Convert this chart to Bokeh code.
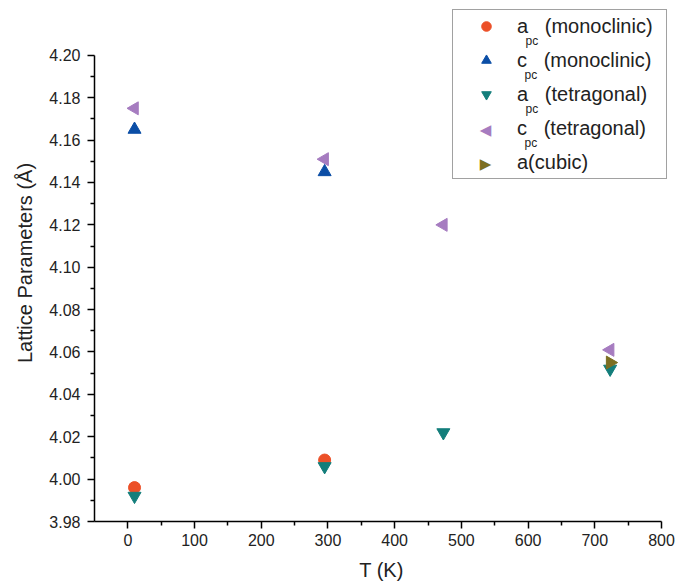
from bokeh.plotting import figure
from bokeh.models import (Legend, LegendItem, FixedTicker, NumeralTickFormatter,
                          Range1d, Label)
from bokeh.embed import file_html
from bokeh.resources import INLINE

# ---- data ----
T_mono = [10, 295]
a_mono = [3.996, 4.009]
c_mono = [4.165, 4.145]

T_tet = [10, 295, 473, 723]
a_tet = [3.992, 4.006, 4.022, 4.052]
c_tet = [4.175, 4.151, 4.120, 4.061]

T_cub = [723]
a_cub = [4.055]

x_ticks = [0, 100, 200, 300, 400, 500, 600, 700, 800]
x_minor = [50, 150, 250, 350, 450, 550, 650, 750]
y_ticks = [3.98, 4.00, 4.02, 4.04, 4.06, 4.08, 4.10, 4.12, 4.14, 4.16, 4.18, 4.20]
y_minor = [3.99, 4.01, 4.03, 4.05, 4.07, 4.09, 4.11, 4.13, 4.15, 4.17, 4.19]

FONT = "Liberation Sans"
C_RED, C_BLUE, C_TEAL, C_PURPLE, C_OLIVE = "#EC5028", "#0B4EA6", "#137E7B", "#A67CC0", "#7C6F22"

p = figure(width=679, height=583, output_backend="svg", toolbar_location=None,
           x_range=Range1d(-50, 810.5), y_range=Range1d(3.98, 4.2240),
           min_border_left=94, min_border_right=11, min_border_top=4,
           min_border_bottom=61)
p.outline_line_color = None
p.xgrid.visible = False
p.ygrid.visible = False
p.background_fill_color = "white"

r1 = p.scatter(T_mono, a_mono, marker="circle", size=12, color=C_RED)
r2 = p.scatter(T_mono, c_mono, marker="triangle", size=13, color=C_BLUE)
r3 = p.scatter(T_tet, a_tet, marker="inverted_triangle", size=13, color=C_TEAL)
r4 = p.scatter(T_tet, c_tet, marker="triangle", angle=1.5708, size=13, color=C_PURPLE)
r5 = p.scatter(T_cub, a_cub, marker="triangle", angle=-1.5708, size=13, color=C_OLIVE)
# invisible stand-ins for legend rows whose marker is drawn as a rotated symbol
d4 = p.scatter(T_cub, a_cub, marker="circle", size=1, alpha=0)
d5 = p.scatter(T_cub, a_cub, marker="circle", size=1, alpha=0)

for ax in (p.xaxis[0], p.yaxis[0]):
    ax.axis_line_color = "black"
    ax.axis_line_width = 1.5
    ax.major_tick_line_color = "black"
    ax.major_tick_line_width = 1.5
    ax.minor_tick_line_color = "black"
    ax.minor_tick_line_width = 1.5
    ax.major_tick_in = 0
    ax.major_tick_out = 7
    ax.minor_tick_in = 0
    ax.minor_tick_out = 4
    ax.major_label_text_font = FONT
    ax.major_label_text_font_size = "16px"
    ax.major_label_text_color = "#222222"
    ax.axis_label_text_font = FONT
    ax.axis_label_text_font_size = "20px"
    ax.axis_label_text_font_style = "normal"
    ax.axis_label_text_color = "#222222"

p.xaxis.ticker = FixedTicker(ticks=x_ticks, minor_ticks=x_minor)
p.yaxis.ticker = FixedTicker(ticks=y_ticks, minor_ticks=y_minor)
p.xaxis.bounds = (-50, 800)
p.yaxis.bounds = (3.98, 4.20)
p.yaxis.formatter = NumeralTickFormatter(format="0.00")
p.xaxis.axis_label = "T (K)"
p.yaxis.axis_label = "Lattice Parameters (Å)"
p.xaxis.major_label_standoff = 5
p.xaxis.axis_label_standoff = 10
p.yaxis.major_label_standoff = 7
p.yaxis.axis_label_standoff = 10

legend = Legend(items=[
    LegendItem(label="a   (monoclinic)", renderers=[r1]),
    LegendItem(label="c   (monoclinic)", renderers=[r2]),
    LegendItem(label="a   (tetragonal)", renderers=[r3]),
    LegendItem(label="c   (tetragonal)", renderers=[d4]),
    LegendItem(label="a(cubic)", renderers=[d5]),
], location=(358, 342))
legend.border_line_color = "#444444"
legend.border_line_width = 1
legend.background_fill_alpha = 0
legend.label_text_font = FONT
legend.label_text_font_size = "20px"
legend.label_text_color = "#222222"
legend.label_height = 24
legend.glyph_height = 24
legend.glyph_width = 58
legend.label_width = 145
legend.label_standoff = 2
legend.spacing = 10
legend.padding = 4
legend.margin = 0
p.add_layout(legend, "center")

# subscripts "pc"
sub_x = [431, 430, 431, 430]
for i, sx in enumerate(sub_x):
    yrow = 494 - 34 * i
    p.add_layout(Label(x=sx, y=yrow - 13, x_units="screen", y_units="screen",
                       text="pc", text_font=FONT, text_font_size="12px",
                       text_color="#222222", text_baseline="middle"))

# rotated triangle symbols for the last two legend rows
for i, (sym, col) in enumerate([("◀", C_PURPLE), ("▶", C_OLIVE)]):
    yrow = 494 - 34 * (3 + i)
    p.add_layout(Label(x=391, y=yrow, x_units="screen", y_units="screen",
                       text=sym, text_font="DejaVu Sans", text_font_size="15px",
                       text_color=col, text_align="center", text_baseline="middle"))

open("out.html", "w").write(file_html(p, INLINE))
